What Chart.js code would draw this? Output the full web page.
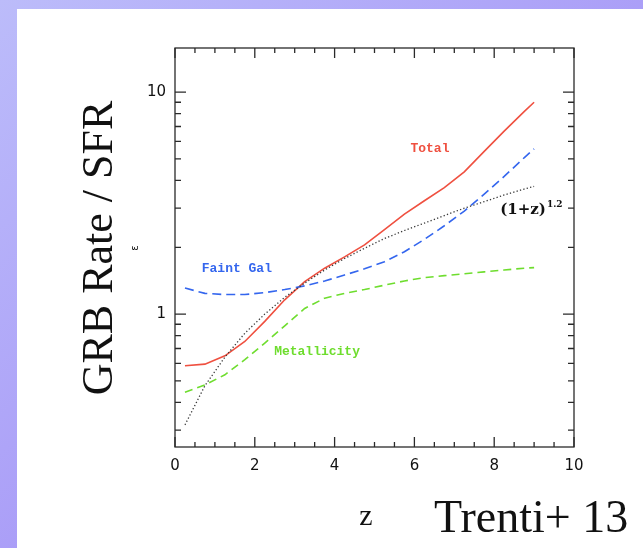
<!DOCTYPE html>
<html>
<head>
<meta charset="utf-8">
<script src="https://cdn.jsdelivr.net/npm/chart.js@4"></script>
<style>
  html, body { margin: 0; padding: 0; }
  body {
    width: 643px; height: 548px; overflow: hidden; position: relative;
    background: linear-gradient(to bottom right, #bcbcfa, #9a82f5);
  }
  #panel { position: absolute; left: 17px; top: 9px; right: 0; bottom: 0; background: #fff; }
  #c { position: absolute; left: 0; top: 0; }
</style>
</head>
<body>
<div id="panel"></div>
<canvas id="c" width="643" height="548"></canvas>
<script>
// redshift grid of the model curves
const zs = [0.25, 0.75, 1.25, 1.75, 2.25, 2.75, 3.25, 3.75, 4.25, 4.75, 5.25, 5.75, 6.25, 6.75, 7.25, 7.75, 8.25, 8.75, 9.0];

// GRB rate / SFR for each model
const total       = [0.585, 0.595, 0.649, 0.753, 0.927, 1.16, 1.40, 1.61, 1.81, 2.05, 2.40, 2.82, 3.24, 3.71, 4.37, 5.41, 6.67, 8.17, 9.0];
const faintGal    = [1.31, 1.24, 1.225, 1.225, 1.25, 1.29, 1.34, 1.41, 1.50, 1.60, 1.72, 1.91, 2.17, 2.50, 2.91, 3.47, 4.17, 5.06, 5.55];
const metallicity = [0.445, 0.48, 0.533, 0.623, 0.74, 0.885, 1.06, 1.18, 1.24, 1.29, 1.35, 1.41, 1.46, 1.49, 1.52, 1.55, 1.58, 1.61, 1.62];
const powerLaw    = [0.317, 0.476, 0.64, 0.82, 1.0, 1.19, 1.38, 1.58, 1.78, 1.98, 2.19, 2.38, 2.57, 2.78, 3.0, 3.21, 3.44, 3.66, 3.76];

// axis ticks
const xTicks = [0, 2, 4, 6, 8, 10];
const yTicks = [1, 10];
const xMinor = [0.5, 1, 1.5, 2.5, 3, 3.5, 4.5, 5, 5.5, 6.5, 7, 7.5, 8.5, 9, 9.5];
const yMinor = [0.3, 0.4, 0.5, 0.6, 0.7, 0.8, 0.9, 2, 3, 4, 5, 6, 7, 8, 9];

const RED = '#ef5040', BLUE = '#3466ee', GREEN = '#6edd2e';

const pts = arr => arr.map((v, i) => ({ x: zs[i], y: v }));

// box with inward tick marks on all four sides
const frame = {
  id: 'frame',
  afterDatasetsDraw(chart) {
    const { ctx, chartArea: a, scales: { x, y } } = chart;
    ctx.save();
    ctx.strokeStyle = '#2a2a2a';
    ctx.lineWidth = 1.3;
    ctx.strokeRect(a.left, a.top, a.right - a.left, a.bottom - a.top);
    ctx.beginPath();
    const vt = (v, len) => {
      const px = x.getPixelForValue(v);
      ctx.moveTo(px, a.bottom); ctx.lineTo(px, a.bottom - len);
      ctx.moveTo(px, a.top); ctx.lineTo(px, a.top + len);
    };
    const ht = (v, len) => {
      const py = y.getPixelForValue(v);
      ctx.moveTo(a.left, py); ctx.lineTo(a.left + len, py);
      ctx.moveTo(a.right, py); ctx.lineTo(a.right - len, py);
    };
    xTicks.forEach(v => vt(v, 10));
    xMinor.forEach(v => vt(v, 5));
    yTicks.forEach(v => ht(v, 11));
    yMinor.forEach(v => ht(v, 6));
    ctx.stroke();
    ctx.restore();
  }
};

// curve labels and axis titles
const labels = {
  id: 'labels',
  afterDraw(chart) {
    const { ctx, scales: { x, y } } = chart;
    ctx.save();
    ctx.textBaseline = 'middle';
    ctx.textAlign = 'center';
    ctx.font = 'bold 13px "Liberation Mono"';
    ctx.fillStyle = RED;
    ctx.fillText('Total', x.getPixelForValue(6.39), y.getPixelForValue(5.56));
    ctx.fillStyle = BLUE;
    ctx.fillText('Faint Gal', x.getPixelForValue(1.55), y.getPixelForValue(1.60));
    ctx.fillStyle = GREEN;
    ctx.fillText('Metallicity', x.getPixelForValue(3.56), y.getPixelForValue(0.676));

    // (1+z)^1.2
    ctx.fillStyle = '#111';
    ctx.textAlign = 'left';
    ctx.font = 'bold 15px "DejaVu Serif"';
    const px = x.getPixelForValue(8.15), py = y.getPixelForValue(2.97);
    ctx.fillText('(1+z)', px, py + 1);
    const w = ctx.measureText('(1+z)').width;
    ctx.font = 'bold 9px "DejaVu Serif"';
    ctx.fillText('1.2', px + w + 1, py - 4);

    // y title
    ctx.textBaseline = 'alphabetic';
    ctx.textAlign = 'center';
    ctx.save();
    ctx.translate(112, 248);
    ctx.rotate(-Math.PI / 2);
    ctx.font = '44px "Liberation Serif"';
    ctx.fillText('GRB Rate / SFR', 0, 0);
    ctx.restore();
    ctx.save();
    ctx.translate(138, 248);
    ctx.rotate(-Math.PI / 2);
    ctx.font = '10px "DejaVu Sans"';
    ctx.fillText('ε', 0, 0);
    ctx.restore();

    // x title and reference
    ctx.font = '30px "Liberation Serif"';
    ctx.fillText('z', 366, 525);
    ctx.textAlign = 'left';
    ctx.font = '46px "Liberation Serif"';
    ctx.fillText('Trenti+ 13', 434, 532);
    ctx.restore();
  }
};

const tickFont = { family: 'DejaVu Sans', size: 15 };

new Chart(document.getElementById('c'), {
  type: 'line',
  data: {
    datasets: [
      { data: pts(powerLaw), borderColor: '#3a3a3a', borderWidth: 1.3, borderDash: [1.3, 2.2] },
      { data: pts(metallicity), borderColor: GREEN, borderWidth: 1.6, borderDash: [8, 5] },
      { data: pts(faintGal), borderColor: BLUE, borderWidth: 1.6, borderDash: [9, 5] },
      { data: pts(total), borderColor: RED, borderWidth: 1.6 }
    ]
  },
  options: {
    responsive: false,
    devicePixelRatio: 1,
    animation: false,
    layout: { padding: { left: 0, top: 48, right: 69, bottom: 0 } },
    elements: { point: { radius: 0 }, line: { tension: 0, fill: false } },
    plugins: { legend: { display: false }, tooltip: { enabled: false } },
    scales: {
      x: {
        type: 'linear', min: 0, max: 10,
        grid: { display: false, drawTicks: false },
        border: { display: false },
        afterBuildTicks: s => { s.ticks = xTicks.map(v => ({ value: v })); },
        ticks: { color: '#111', font: tickFont, padding: 10, maxRotation: 0, callback: v => String(v) },
        afterFit: s => { s.height = 101; }
      },
      y: {
        type: 'logarithmic', min: 0.252, max: 15.8,
        grid: { display: false, drawTicks: false },
        border: { display: false },
        afterBuildTicks: s => { s.ticks = yTicks.map(v => ({ value: v })); },
        ticks: { color: '#111', font: tickFont, padding: 9, callback: v => String(v) },
        afterFit: s => { s.width = 175; }
      }
    }
  },
  plugins: [frame, labels]
});
</script>
</body>
</html>
